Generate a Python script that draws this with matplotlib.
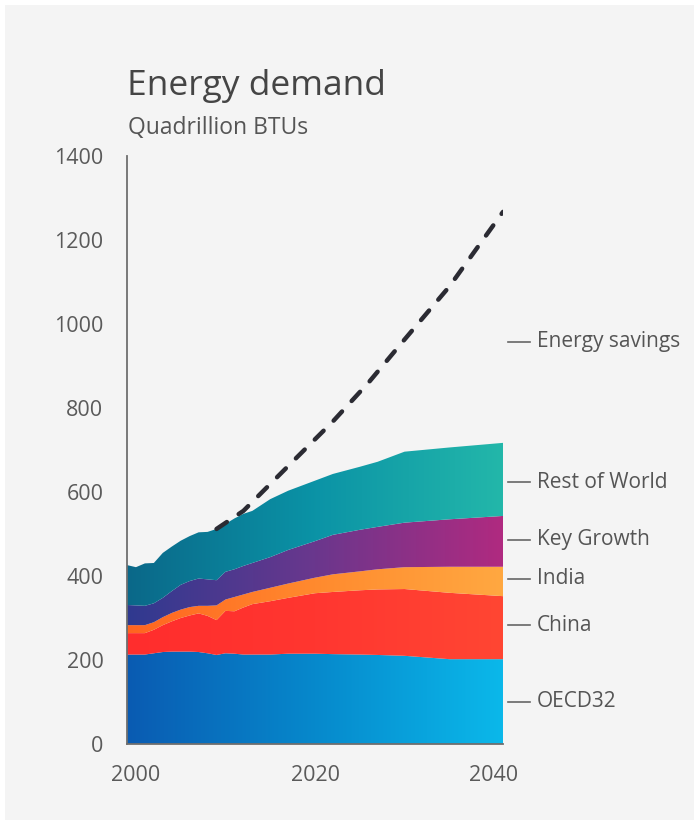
import numpy as np
import matplotlib
matplotlib.use("Agg")
import matplotlib.pyplot as plt
from matplotlib.colors import LinearSegmentedColormap
from matplotlib.patches import Polygon, Rectangle

plt.rcParams['font.family'] = ['Open Sans', 'DejaVu Sans']

# Energy demand by region, quadrillion BTUs
years = [1999, 2000, 2001, 2002, 2003, 2004, 2005, 2006, 2007, 2008, 2009, 2010,
         2011, 2012, 2013, 2015, 2017, 2020, 2022, 2025, 2027, 2030, 2035, 2041]
oecd32 = [213, 213, 213, 216, 219, 220, 220, 220, 219, 216, 212, 216,
          215, 213, 213, 213, 215, 215, 214, 213, 212, 210, 202, 202]
china = [51, 51, 51, 56, 64, 72, 80, 86, 92, 89, 83, 101,
         101, 112, 120, 127, 133, 144, 148, 153, 156, 159, 158, 150]
india = [19, 19, 19, 18, 19, 20, 20, 20, 18, 24, 35, 27,
         34, 31, 29, 32, 34, 37, 42, 45, 48, 52, 62, 70]
key_growth = [48, 47, 46, 45, 46, 52, 59, 62, 65, 63, 60, 66,
              66, 68, 69, 73, 80, 87, 94, 99, 101, 106, 113, 121]
rest_of_world = [95, 91, 101, 96, 107, 106, 105, 107, 110, 113, 122, 114,
                 121, 124, 124, 138, 141, 144, 145, 150, 155, 169, 171, 174]

# Demand without energy savings
savings_years = [2009, 2012, 2015, 2018, 2022, 2026, 2030, 2035, 2041]
savings_demand = [512, 555, 619, 683, 768, 861, 963, 1089, 1267]

series_names = ['OECD32', 'China', 'India', 'Key Growth', 'Rest of World']
series_values = [oecd32, china, india, key_growth, rest_of_world]
series_colors = [
    ['#0a5bb2', '#0689cc', '#0bb8ea'],
    ['#ff2d2d', '#ff3630', '#ff4633'],
    ['#ff6420', '#ff8a2e', '#ffa841'],
    ['#2f3a90', '#6a378d', '#b02a80'],
    ['#0a6889', '#0b93a6', '#23b7aa'],
]

label_names = ['Energy savings', 'Rest of World', 'Key Growth', 'India', 'China', 'OECD32']
label_y = [958, 623, 486, 394, 283, 101]

fig = plt.figure(figsize=(6.99, 8.25), dpi=100, facecolor='white')
fig.patches.append(Rectangle((5 / 699, 5 / 825), 689 / 699, 815 / 825,
                             transform=fig.transFigure, facecolor='#f4f4f4',
                             edgecolor='none', zorder=-10))

ax = fig.add_axes([127 / 699, 1 - 744 / 825, 376 / 699, 588 / 825])
ax.set_facecolor('none')

x = np.array(years, dtype=float)
bottom = np.zeros(len(years))
for name, vals, cols in zip(series_names, series_values, series_colors):
    top = bottom + np.array(vals)
    verts = np.column_stack([np.r_[x, x[::-1]], np.r_[top, bottom[::-1]]])
    patch = Polygon(verts, closed=True, facecolor='none', edgecolor='none')
    ax.add_patch(patch)
    cmap = LinearSegmentedColormap.from_list(name, cols)
    grad = np.linspace(0, 1, 256).reshape(1, -1)
    im = ax.imshow(grad, extent=[x[0], x[-1], 0, 1400], aspect='auto',
                   cmap=cmap, origin='lower', interpolation='bilinear', zorder=1)
    im.set_clip_path(patch)
    bottom = top

ax.plot(savings_years, savings_demand, color='#2b2b33', lw=3.2,
        linestyle=(0, (2.8, 3.2)), dash_capstyle='round', zorder=3)

ax.set_xlim(1999, 2041)
ax.set_ylim(0, 1400)
ax.set_xticks([2000, 2020, 2040])
ax.set_yticks(range(0, 1401, 200))
ax.tick_params(length=0, labelsize=15.5, labelcolor='#5a5a5a')
ax.tick_params(axis='y', pad=17)
ax.tick_params(axis='x', pad=15)
for side in ['top', 'right']:
    ax.spines[side].set_visible(False)
for side in ['left', 'bottom']:
    ax.spines[side].set_color('#6e6e6e')
    ax.spines[side].set_linewidth(1.3)
    ax.spines[side].set_zorder(4)

# Series labels on the right
tr = ax.get_yaxis_transform()
for name, y in zip(label_names, label_y):
    ax.plot([1.013, 1.072], [y, y], color='#666666', lw=1.2, transform=tr,
            clip_on=False)
    ax.text(1.09, y, name, transform=tr, fontsize=15, color='#555555',
            va='center', ha='left')

fig.text(127 / 699, 1 - 95 / 825, 'Energy demand', fontsize=25.5,
         color='#454545', va='baseline', ha='left')
fig.text(128 / 699, 1 - 134 / 825, 'Quadrillion BTUs', fontsize=16.5,
         color='#555555', va='baseline', ha='left')

fig.savefig('out.png', dpi=100, facecolor='white')
